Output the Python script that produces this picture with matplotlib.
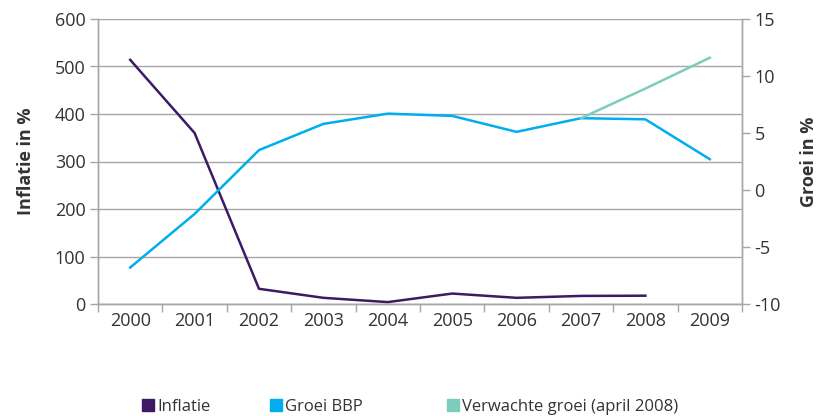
import matplotlib
matplotlib.use('Agg')
import matplotlib.pyplot as plt
from matplotlib.lines import Line2D
import numpy as np

plt.rcParams['font.family'] = ['Open Sans', 'DejaVu Sans']
plt.rcParams['axes.unicode_minus'] = False

jaren = ['2000', '2001', '2002', '2003', '2004', '2005', '2006', '2007', '2008', '2009']
inflatie = [514, 360, 32, 13, 4, 22, 13, 17, 17.5]          # 2000-2008
groei_bbp = [-6.8, -2.1, 3.5, 5.8, 6.7, 6.5, 5.1, 6.3, 6.2, 2.7]  # 2000-2009
verwacht_jaren = ['2007', '2008', '2009']
verwacht = [6.3, 8.9, 11.6]

paars = '#3d1a63'
blauw = '#00aeef'
turkoois = '#7dcdbf'
grijs = '#a6a6a6'
tekst = '#333333'

fig = plt.figure(figsize=(8.22, 4.16), dpi=100)
ax = fig.add_axes([98/822, 112/416, 644/822, 285/416])
ax2 = ax.twinx()

x = np.arange(len(jaren))
xi = np.arange(len(inflatie))
xv = [jaren.index(j) for j in verwacht_jaren]

ax.plot(xi, inflatie, color=paars, lw=1.8, zorder=3)
ax2.plot(x, groei_bbp, color=blauw, lw=1.8)
ax2.plot(xv, verwacht, color=turkoois, lw=1.8)

ax.set_xlim(-0.5, len(jaren) - 0.5)
ax.set_ylim(0, 600)
ax.set_yticks(range(0, 601, 100))
ax2.set_ylim(-10, 15)
ax2.set_yticks(range(-10, 16, 5))

ax.set_xticks(np.arange(-0.5, len(jaren), 1))
ax.set_xticklabels([])
ax.set_xticks(x, minor=True)
ax.set_xticklabels(jaren, minor=True)
ax.tick_params(axis='x', which='both', labelsize=13, labelcolor=tekst)
ax.tick_params(axis='x', which='minor', length=0, pad=6)
ax.tick_params(axis='x', which='major', length=6, color=grijs, width=1)

ax.grid(axis='y', color=grijs, lw=1)
ax.set_axisbelow(True)

for a in (ax, ax2):
    a.spines['top'].set_visible(False)
    for s in ('left', 'right', 'bottom'):
        a.spines[s].set_color(grijs)
        a.spines[s].set_linewidth(1)
    a.tick_params(axis='y', length=6, color=grijs, width=1, labelsize=13, labelcolor=tekst, pad=3)

ax.set_ylabel('Inflatie in %', fontsize=13, fontweight='bold', color=tekst, labelpad=14)
ax2.set_ylabel('Groei in %', fontsize=13, fontweight='bold', color=tekst, labelpad=14)

namen = ['Inflatie', 'Groei BBP', 'Verwachte groei (april 2008)']
kleuren = [paars, blauw, turkoois]
posities = [142/822, 270/822, 447/822]
for naam, kleur, px in zip(namen, kleuren, posities):
    h = Line2D([], [], marker='s', ls='', color=kleur, markersize=9)
    fig.legend([h], [naam], loc='center left', bbox_to_anchor=(px, 9/416),
               frameon=False, fontsize=12, handlelength=0.7, handletextpad=0.2,
               borderaxespad=0, borderpad=0, labelcolor=tekst)

plt.savefig('out.png', dpi=100)
plt.close()
